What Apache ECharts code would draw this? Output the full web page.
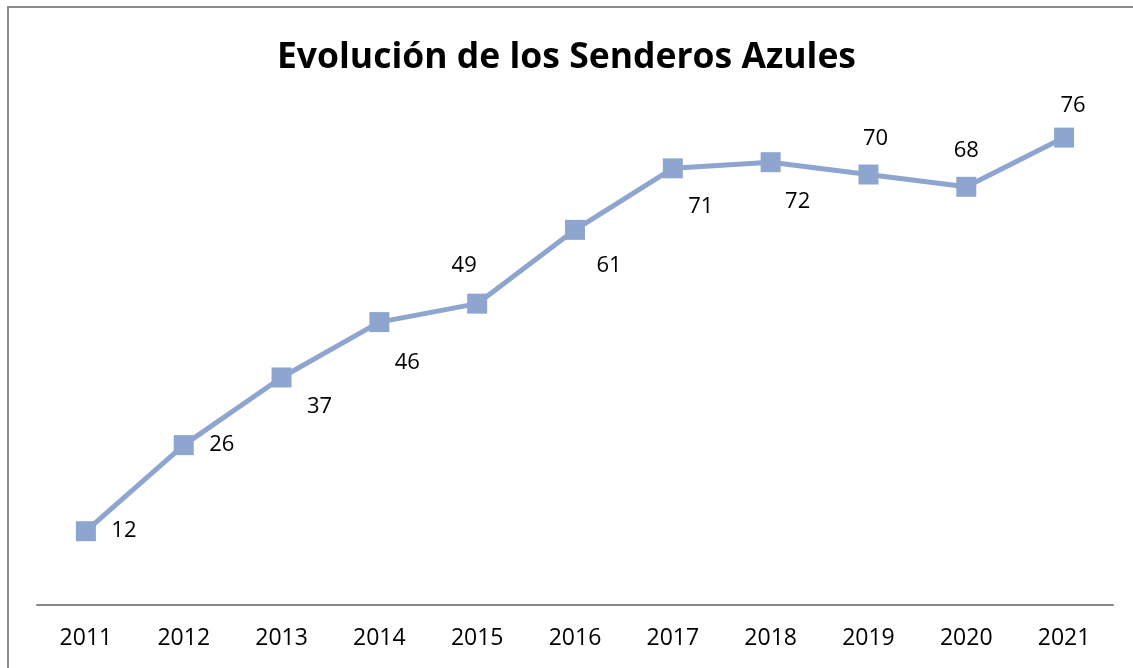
<!DOCTYPE html>
<html lang="es">
<head>
    <meta charset="UTF-8">
    <script src="https://cdn.jsdelivr.net/npm/echarts@6/dist/echarts.min.js"></script>
    <style>
        html, body { margin: 0; padding: 0; background: #fff; }
        #chart { width: 1133px; height: 668px; }
    </style>
</head>
<body>
    <div id="chart"></div>
    <script>
        const years = ['2011', '2012', '2013', '2014', '2015', '2016', '2017', '2018', '2019', '2020', '2021'];
        const senderos = [12, 26, 37, 46, 49, 61, 71, 72, 70, 68, 76];

        // where each value label sits relative to its marker
        const labelOffsets = [[38, 0], [38, 0], [38, 29], [28, 41], [-13, -38], [34, 36],
                              [28, 38], [27, 40], [7, -36], [0, -36], [9, -32]];

        const chart = echarts.init(document.getElementById('chart'));

        chart.setOption({
            backgroundColor: '#fff',
            animation: false,
            title: {
                text: 'Evolución de los Senderos Azules',
                left: 'center',
                top: 35,
                textStyle: { fontFamily: 'Open Sans', fontWeight: 'bold', fontSize: 35.5, color: '#000' }
            },
            graphic: [{
                type: 'rect',
                shape: { x: 8, y: 7, width: 1200, height: 700 },
                style: { fill: 'none', stroke: '#8a8a8a', lineWidth: 2 }
            }],
            grid: { left: 37, right: 20, top: 113, bottom: 63 },
            xAxis: {
                type: 'category',
                data: years,
                boundaryGap: true,
                axisLine: { lineStyle: { color: '#868686', width: 2 } },
                axisTick: { show: false },
                axisLabel: { fontFamily: 'Open Sans', fontSize: 23, color: '#000', margin: 22 }
            },
            yAxis: {
                type: 'value',
                min: 0,
                max: 80,
                show: false,
                splitLine: { show: false }
            },
            series: [{
                type: 'line',
                data: senderos.map((v, i) => ({
                    value: v,
                    label: { offset: labelOffsets[i] }
                })),
                symbol: 'rect',
                symbolSize: 20,
                lineStyle: { color: '#8ea6cf', width: 5 },
                itemStyle: { color: '#8ea6cf' },
                label: {
                    show: true,
                    position: 'inside',
                    fontFamily: 'Open Sans',
                    fontSize: 22,
                    color: '#000'
                }
            }]
        });
    </script>
</body>
</html>
